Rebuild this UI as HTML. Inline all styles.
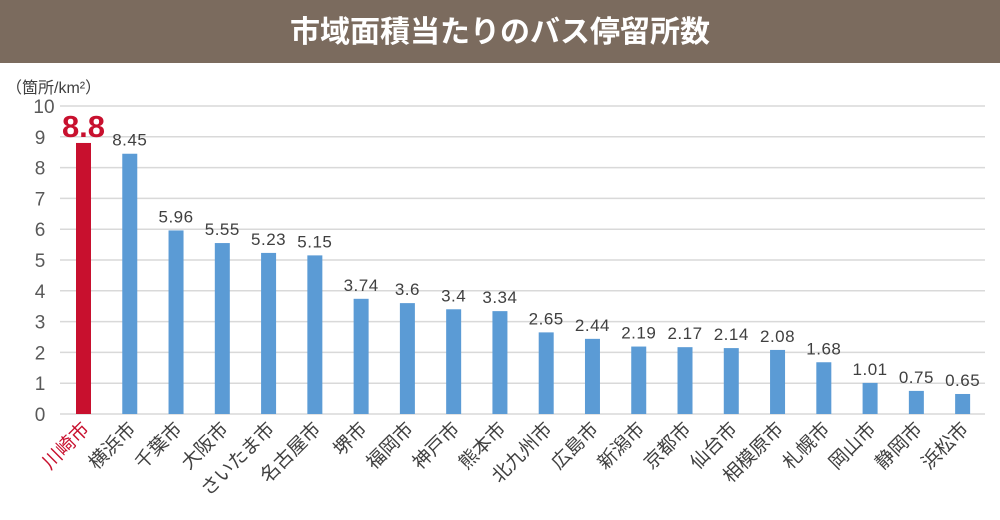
<!DOCTYPE html>
<html><head><meta charset="utf-8"><style>
body{margin:0;width:1000px;height:520px;background:#fff;overflow:hidden}
svg{display:block;font-family:"Liberation Sans","Noto Sans CJK JP",sans-serif}
</style></head><body>
<svg width="1000" height="520" viewBox="0 0 1000 520">
<rect x="0" y="0" width="1000" height="63" fill="#7b6b5e"/>
<text x="500" y="42" text-anchor="middle" fill="#fff" font-size="30" font-weight="bold" font-family="Noto Sans CJK JP,sans-serif">市域面積当たりのバス停留所数</text>
<text x="6" y="93" fill="#404040" font-size="16">（箇所/km²）</text>
<g id="grid"></g>
<g id="bars"></g>
</svg>
<script>
const vals=[8.8,8.45,5.96,5.55,5.23,5.15,3.74,3.6,3.4,3.34,2.65,2.44,2.19,2.17,2.14,2.08,1.68,1.01,0.75,0.65];
const names=["川崎市","横浜市","千葉市","大阪市","さいたま市","名古屋市","堺市","福岡市","神戸市","熊本市","北九州市","広島市","新潟市","京都市","仙台市","相模原市","札幌市","岡山市","静岡市","浜松市"];
const y0=414,s=30.8;
let g="";
for(let i=0;i<=10;i++){const y=y0-i*s;
g+=`<line x1="60" x2="985" y1="${y}" y2="${y}" stroke="#d9d9d9" stroke-width="1.5"/>`;
g+=`<text x="${i==10?44:40}" y="${y+7}" text-anchor="middle" fill="#595959" font-size="19">${i}</text>`;}
document.getElementById("grid").innerHTML=g;
let b="";
vals.forEach((v,i)=>{const cx=83.5+i*46.27,h=v*s,red=i==0;
b+=`<rect x="${cx-7.5}" y="${y0-h}" width="15" height="${h}" fill="${red?'#c8102e':'#5b9bd5'}"/>`;
if(red)b+=`<text x="${cx}" y="${y0-h-6}" text-anchor="middle" fill="#c8102e" font-size="31" font-weight="bold">${v}</text>`;
else b+=`<text x="${cx}" y="${y0-h-8}" text-anchor="middle" fill="#404040" font-size="17" letter-spacing="0.5">${v}</text>`;
b+=`<text transform="translate(${cx+7},${y0+16}) rotate(-45)" text-anchor="end" fill="${red?'#c8102e':'#404040'}" font-size="19" font-family="Noto Sans CJK JP,sans-serif">${names[i]}</text>`;});
document.getElementById("bars").innerHTML=b;
</script>
</body></html>
